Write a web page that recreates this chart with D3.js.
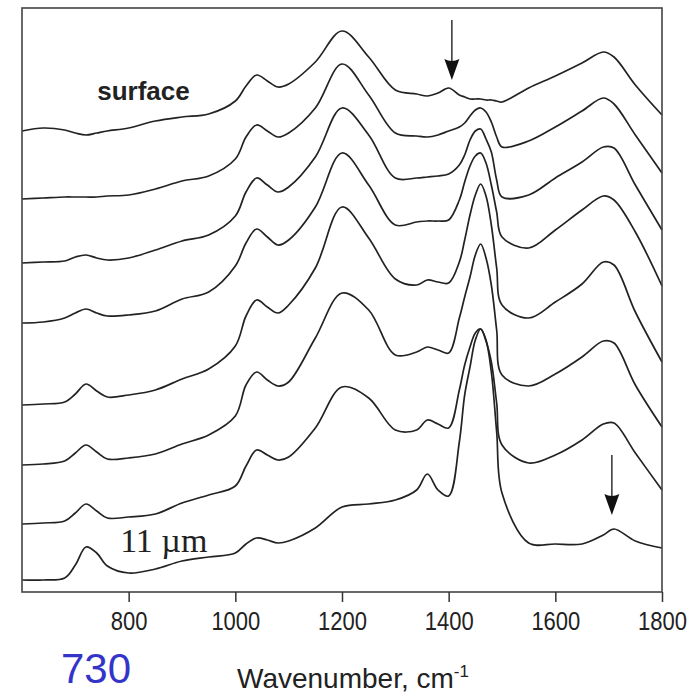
<!DOCTYPE html>
<html>
<head>
<meta charset="utf-8">
<script src="https://cdn.jsdelivr.net/npm/d3@7"></script>
<style>
  body { margin: 0; background: #fff; }
  svg { display: block; }
</style>
</head>
<body>
<svg id="chart" width="692" height="693"></svg>
<script>
// Shared wavenumber grid (cm-1) for every spectrum
const wavenumbers = [600, 640, 680, 700, 720, 740, 760, 800, 850, 900, 950, 1000, 1020, 1040, 1060, 1080, 1100,
  1150, 1200, 1250, 1300, 1340, 1360, 1380, 1400, 1420, 1430, 1440, 1450, 1460, 1470, 1480, 1490, 1500,
  1550, 1600, 1650, 1690, 1710, 1750, 1800];

// Stacked absorbance (offset applied), from the surface layer down to 11 um
const layerSurface = [4.61, 4.64, 4.62, 4.59, 4.57, 4.59, 4.61, 4.64, 4.71, 4.75, 4.78, 4.91, 5.06, 5.17, 5.11, 5.05, 5.08,
  5.30, 5.61, 5.35, 5.02, 4.98, 4.96, 4.99, 5.04, 4.97, 4.95, 4.93, 4.93, 4.93, 4.92, 4.92, 4.91, 4.90,
  5.04, 5.16, 5.29, 5.40, 5.35, 5.07, 4.77];
const layer2 = [3.93, 3.94, 3.95, 3.95, 3.95, 3.95, 3.96, 3.97, 4.03, 4.11, 4.16, 4.33, 4.55, 4.67, 4.61, 4.55, 4.59,
  4.84, 5.28, 4.97, 4.59, 4.56, 4.55, 4.57, 4.61, 4.65, 4.69, 4.76, 4.82, 4.84, 4.80, 4.70, 4.55, 4.45,
  4.51, 4.65, 4.81, 4.94, 4.88, 4.57, 4.19];
const layer3 = [3.29, 3.30, 3.31, 3.35, 3.37, 3.34, 3.32, 3.34, 3.42, 3.51, 3.57, 3.76, 4.00, 4.14, 4.07, 4.00, 4.05,
  4.35, 4.84, 4.57, 4.14, 4.14, 4.15, 4.16, 4.18, 4.27, 4.37, 4.52, 4.61, 4.63, 4.53, 4.40, 4.12, 3.95,
  3.97, 4.14, 4.30, 4.45, 4.44, 4.07, 3.62];
const layer4 = [2.69, 2.70, 2.74, 2.79, 2.83, 2.79, 2.76, 2.77, 2.81, 2.93, 3.00, 3.26, 3.49, 3.63, 3.55, 3.47, 3.52,
  3.85, 4.39, 4.07, 3.67, 3.70, 3.71, 3.71, 3.72, 3.92, 4.10, 4.26, 4.36, 4.39, 4.29, 4.07, 3.80, 3.55,
  3.44, 3.62, 3.82, 3.96, 3.92, 3.60, 3.06];
const layer5 = [1.87, 1.88, 1.90, 1.98, 2.08, 2.01, 1.95, 1.97, 2.02, 2.13, 2.23, 2.46, 2.76, 2.92, 2.85, 2.79, 2.87,
  3.24, 3.85, 3.54, 3.13, 3.07, 3.12, 3.10, 3.09, 3.30, 3.52, 3.77, 3.97, 4.08, 3.96, 3.67, 3.24, 2.87,
  2.74, 2.90, 3.08, 3.30, 3.27, 2.80, 2.30];
const layer6 = [1.27, 1.28, 1.31, 1.39, 1.47, 1.40, 1.33, 1.34, 1.38, 1.48, 1.57, 1.76, 2.07, 2.20, 2.12, 2.06, 2.10,
  2.54, 2.99, 2.82, 2.37, 2.40, 2.45, 2.42, 2.39, 2.74, 2.95, 3.15, 3.37, 3.48, 3.34, 3.07, 2.62, 2.17,
  2.06, 2.18, 2.35, 2.51, 2.49, 2.07, 1.65];
const layer7 = [0.68, 0.69, 0.71, 0.79, 0.88, 0.81, 0.74, 0.75, 0.78, 0.89, 0.97, 1.06, 1.26, 1.42, 1.37, 1.32, 1.35,
  1.64, 2.05, 1.94, 1.62, 1.62, 1.72, 1.68, 1.64, 2.02, 2.27, 2.45, 2.59, 2.63, 2.51, 2.30, 1.89, 1.47,
  1.29, 1.37, 1.52, 1.68, 1.69, 1.39, 1.02];
const layer11um = [0.12, 0.12, 0.14, 0.27, 0.45, 0.39, 0.26, 0.19, 0.23, 0.31, 0.35, 0.39, 0.48, 0.54, 0.52, 0.49, 0.51,
  0.64, 0.85, 0.88, 0.92, 1.02, 1.18, 1.02, 0.96, 1.50, 1.97, 2.25, 2.52, 2.63, 2.52, 2.20, 1.60, 0.99,
  0.49, 0.48, 0.48, 0.57, 0.63, 0.51, 0.44];

const spectra = [layerSurface, layer2, layer3, layer4, layer5, layer6, layer7, layer11um];

const xTicks = [800, 1000, 1200, 1400, 1600, 1800];

// Arrows marking the 1406 and 1706 cm-1 bands (wavenumber, tail value, tip value)
const arrowMarks = [
  { wn: 1406, tail: 5.72, tip: 5.12 },
  { wn: 1706, tail: 1.37, tip: 0.77 }
];

// Text labels placed in data coordinates
const labels = [
  { text: "surface", wn: 741, v: 4.92, font: "bold 26px 'Liberation Sans', Arial, sans-serif" },
  { text: "11 \u00b5m", wn: 784, v: 0.40, font: "34px 'Liberation Serif', 'Times New Roman', serif" }
];

const W = 692, H = 693;
const margin = { top: 8, right: 30, bottom: 101, left: 22 };

const svg = d3.select("#chart");

const x = d3.scaleLinear().domain([600, 1800]).range([margin.left, W - margin.right]);
const y = d3.scaleLinear().domain([0, 5.84]).range([H - margin.bottom, margin.top]);

// Spectra
const line = d3.line()
  .x((d, i) => x(wavenumbers[i]))
  .y(d => y(d))
  .curve(d3.curveCatmullRom.alpha(0.5));

svg.append("g")
  .selectAll("path")
  .data(spectra)
  .join("path")
  .attr("d", line)
  .attr("fill", "none")
  .attr("stroke", "#222")
  .attr("stroke-width", 1.7)
  .attr("stroke-linejoin", "round");

// Plot frame
svg.append("rect")
  .attr("x", x.range()[0])
  .attr("y", y.range()[1])
  .attr("width", x.range()[1] - x.range()[0])
  .attr("height", y.range()[0] - y.range()[1])
  .attr("fill", "none")
  .attr("stroke", "#444")
  .attr("stroke-width", 1.6);

// Bottom axis
const xAxis = d3.axisBottom(x)
  .tickValues(xTicks)
  .tickSizeInner(10)
  .tickSizeOuter(0)
  .tickFormat(d3.format("d"));

const gx = svg.append("g")
  .attr("transform", `translate(0,${y.range()[0]})`)
  .call(xAxis);
gx.select(".domain").remove();
gx.selectAll(".tick line").attr("stroke", "#333").attr("stroke-width", 1.5);
gx.selectAll(".tick text")
  .attr("y", null)
  .attr("dy", null)
  .attr("transform", "translate(0,38) scale(1,1.15)")
  .attr("fill", "#222")
  .style("font", "22px 'Liberation Sans', Arial, sans-serif");

// Arrows
const arrows = svg.append("g").selectAll("g").data(arrowMarks).join("g");
arrows.append("line")
  .attr("x1", d => x(d.wn)).attr("x2", d => x(d.wn))
  .attr("y1", d => y(d.tail)).attr("y2", d => y(d.tip) - 14)
  .attr("stroke", "#222").attr("stroke-width", 1.4);
arrows.append("path")
  .attr("d", d => {
    const cx = x(d.wn), ty = y(d.tip);
    return `M${cx - 7.5},${ty - 21} Q${cx},${ty - 17} ${cx + 7.5},${ty - 21} L${cx},${ty} Z`;
  })
  .attr("fill", "#111");

// In-plot labels
svg.append("g").selectAll("text").data(labels).join("text")
  .attr("x", d => x(d.wn))
  .attr("y", d => y(d.v))
  .style("font", d => d.font)
  .attr("fill", "#222")
  .text(d => d.text);

// Axis title
const title = svg.append("text")
  .attr("x", 237)
  .attr("y", 688)
  .attr("fill", "#222")
  .style("font", "28px 'Liberation Sans', Arial, sans-serif");
title.append("tspan").text("Wavenumber, cm");
title.append("tspan").attr("dy", -11).style("font-size", "17px").text("-1");

// Highlighted band position
svg.append("text")
  .attr("x", 61)
  .attr("y", 683)
  .attr("fill", "#3434c8")
  .style("font", "42px 'Liberation Sans', Arial, sans-serif")
  .text("730");
</script>
</body>
</html>
